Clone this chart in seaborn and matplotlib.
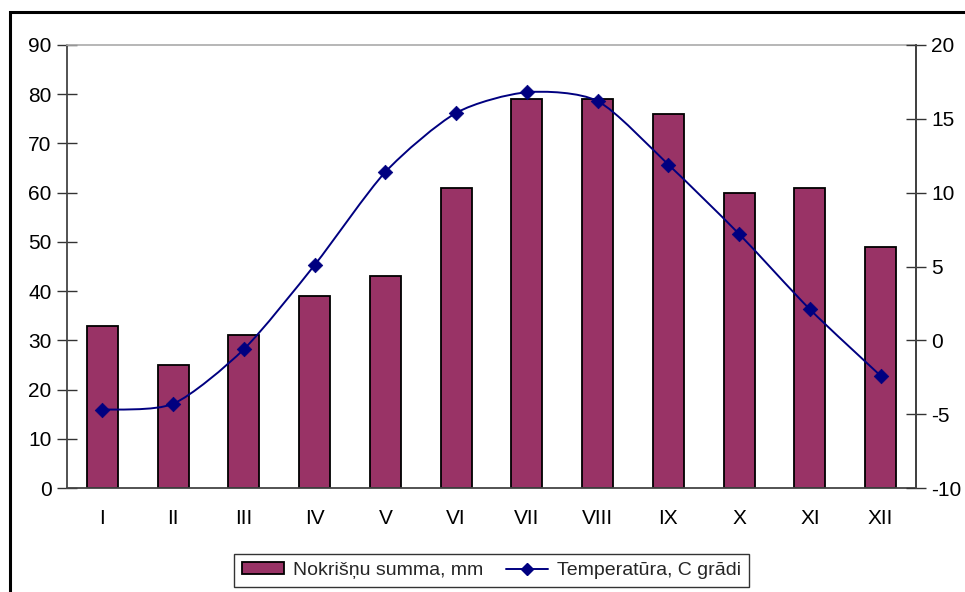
import numpy as np
import pandas as pd
import matplotlib
matplotlib.use("Agg")
import matplotlib.pyplot as plt
from matplotlib.path import Path
from matplotlib.patches import PathPatch, Patch, Rectangle
from matplotlib.lines import Line2D
import seaborn as sns

months = ["I", "II", "III", "IV", "V", "VI", "VII", "VIII", "IX", "X", "XI", "XII"]
precipitation = [33, 25, 31, 39, 43, 61, 79, 79, 76, 60, 61, 49]
temperature = [-4.7, -4.3, -0.6, 5.1, 11.4, 15.4, 16.8, 16.2, 11.9, 7.2, 2.1, -2.4]
left_ticks = list(range(0, 91, 10))
right_ticks = list(range(-10, 21, 5))
bar_label = "Nokrišņu summa, mm"
line_label = "Temperatūra, C grādi"

bar_color = "#993366"
line_color = "#000080"

sns.set_theme(style="white")
plt.rcParams["font.family"] = ["Liberation Sans", "DejaVu Sans"]
plt.rcParams["font.size"] = 15
plt.rcParams["axes.unicode_minus"] = False

W, H = 965, 592
fig = plt.figure(figsize=(W / 100, H / 100), dpi=100)
x0, x1, y0, y1 = 67, 916, 45, 488
ax = fig.add_axes([x0 / W, 1 - y1 / H, (x1 - x0) / W, (y1 - y0) / H])

df = pd.DataFrame({"month": months, "precip": precipitation})
sns.barplot(data=df, x="month", y="precip", color=bar_color, saturation=1,
            width=0.44, edgecolor="black", linewidth=1.3, ax=ax)
ax.set_xlim(-0.5, 11.5)
ax.set_ylim(0, 90)
ax.set_yticks(left_ticks)
ax.set_xlabel("")
ax.set_ylabel("")
ax.set_xticks(range(len(months)))
ax.set_xticklabels(months)
ax.set_xticks(np.arange(-0.5, 12, 1), minor=True)
ax.tick_params(axis="x", which="major", length=0, pad=15, labelsize=15, colors="black")
ax.tick_params(axis="x", which="minor", length=12, width=1, direction="inout", color="#333333")
ax.tick_params(axis="y", length=14, width=1, direction="inout", pad=4, labelsize=15,
               colors="black", color="#333333", left=True)
for side in ["left", "bottom"]:
    ax.spines[side].set_color("#444444")
    ax.spines[side].set_linewidth(1.3)
ax.spines["top"].set_color("#aaaaaa")
ax.spines["top"].set_linewidth(1.2)

ax2 = ax.twinx()
ax2.set_ylim(-10, 20)
ax2.set_yticks(right_ticks)
ax2.tick_params(axis="y", length=14, width=1, direction="inout", pad=4, labelsize=15,
                colors="black", color="#333333", right=True)
for side in ["left", "bottom", "top"]:
    ax2.spines[side].set_visible(False)
ax2.spines["right"].set_color("#444444")
ax2.spines["right"].set_linewidth(1.3)
ax2.grid(False)
ax.grid(False)

# Smoothed temperature curve (tension-reduced Catmull-Rom as cubic Bezier segments)
tension = 1 / 8.0
xs = np.arange(len(temperature), dtype=float)
ys = np.array(temperature, dtype=float)
pts = np.column_stack([xs, ys])
ext = np.vstack([pts[0], pts, pts[-1]])
verts = [tuple(pts[0])]
codes = [Path.MOVETO]
for i in range(len(pts) - 1):
    p0, p1, p2, p3 = ext[i], ext[i + 1], ext[i + 2], ext[i + 3]
    c1 = p1 + (p2 - p0) * tension
    c2 = p2 - (p3 - p1) * tension
    verts += [tuple(c1), tuple(c2), tuple(p2)]
    codes += [Path.CURVE4] * 3
ax2.add_patch(PathPatch(Path(verts, codes), facecolor="none", edgecolor=line_color, lw=1.4))
sns.scatterplot(x=xs, y=ys, marker="D", s=55, color=line_color, edgecolor=line_color,
                linewidth=0.5, ax=ax2, zorder=5)
ax2.set_xlim(-0.5, 11.5)

handles = [
    Patch(facecolor=bar_color, edgecolor="black", linewidth=1.3),
    Line2D([], [], color=line_color, lw=1.4, marker="D", markersize=6),
]
fig.legend(handles, [bar_label, line_label], loc="upper center",
           bbox_to_anchor=((x0 + x1) / 2 / W, 1 - 554 / H), ncol=2, frameon=True,
           fancybox=False, edgecolor="#333333", framealpha=1, fontsize=14,
           handlelength=2.16, handleheight=0.55, handletextpad=0.45, columnspacing=1.2,
           borderpad=0.42, borderaxespad=0)

# Chart area border
fig.patches.append(Rectangle((9.5 / W, -0.1), 1.2, 1 - 12 / H + 0.1, transform=fig.transFigure,
                             fill=False, edgecolor="black", linewidth=2.2))

fig.savefig("out.png", dpi=100, facecolor="white")
